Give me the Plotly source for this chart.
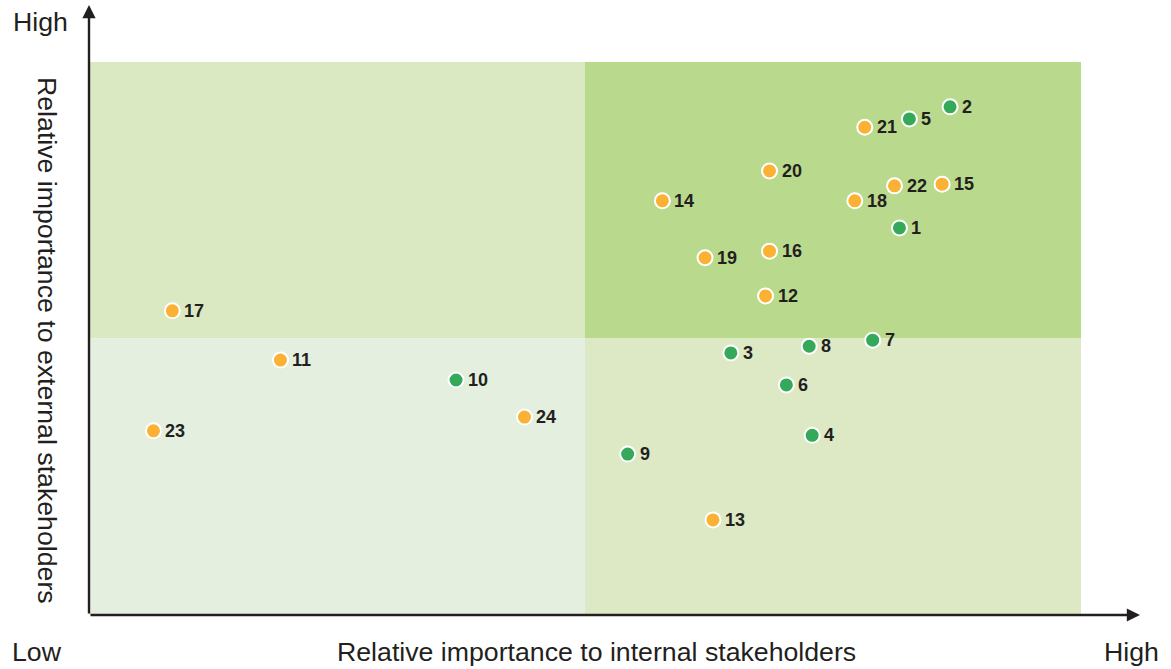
import plotly.graph_objects as go

# Issue number, position on each importance scale (0-100) and stakeholder group
issue_ids = ["1", "2", "3", "4", "5", "6", "7", "8", "9", "10", "11", "12",
             "13", "14", "15", "16", "17", "18", "19", "20", "21", "22", "23", "24"]
internal_importance = [81.7, 86.8, 64.7, 72.9, 82.7, 70.3, 79.0, 72.6, 54.3, 37.0, 19.3, 68.2,
                       62.9, 57.8, 86.0, 68.6, 8.4, 77.2, 62.1, 68.6, 78.2, 81.2, 6.5, 43.9]
external_importance = [70.0, 91.9, 47.4, 32.5, 89.7, 41.6, 49.7, 48.6, 29.1, 42.5, 46.1, 57.7,
                       17.2, 74.9, 77.9, 65.8, 55.0, 74.9, 64.6, 80.3, 88.2, 77.6, 33.3, 35.8]
issue_group = ["g", "g", "g", "g", "g", "g", "g", "g", "g", "g", "o", "o",
               "o", "o", "o", "o", "o", "o", "o", "o", "o", "o", "o", "o"]

group_colors = {"g": "#35a95a", "o": "#fbb133"}
ink = "#231f20"
font_family = "Liberation Sans, Arial, Helvetica, sans-serif"

W, H = 1171, 669
ML, MR, MT, MB = 89, 90, 62, 54
plot_w = W - ML - MR
plot_h = H - MT - MB
base_px = H - MB  # pixel row of the x axis


def px_x(p):
    return (p - ML) / plot_w


def px_y(p):
    return (base_px - p) / plot_h


fig = go.Figure()

fig.add_trace(go.Scatter(
    x=internal_importance,
    y=external_importance,
    mode="markers",
    marker=dict(
        size=15,
        color=[group_colors[g] for g in issue_group],
        line=dict(color="white", width=2),
    ),
    hoverinfo="skip",
    showlegend=False,
))

# Quadrant backgrounds
quadrants = [
    (0, 50, 50, 100, "#dae9c2"),   # top-left
    (50, 100, 50, 100, "#b9d98c"),  # top-right
    (0, 50, 0, 50, "#e4efdf"),      # bottom-left
    (50, 100, 0, 50, "#dce9c4"),    # bottom-right
]
shapes = [
    dict(type="rect", xref="x", yref="y", x0=x0, x1=x1, y0=y0, y1=y1,
         fillcolor=c, line=dict(width=0), layer="below")
    for x0, x1, y0, y1, c in quadrants
]

annotations = []
# Issue number labels, to the right of each marker
for label, xv, yv in zip(issue_ids, internal_importance, external_importance):
    annotations.append(dict(
        x=xv, y=yv, xref="x", yref="y", text=label, showarrow=False,
        xanchor="left", yanchor="middle", xshift=10, yshift=0,
        font=dict(family=font_family, size=18, color=ink, weight="bold"),
    ))

# Axis arrows
annotations.append(dict(
    x=0, y=px_y(5), xref="paper", yref="paper",
    ax=0, ay=base_px - 5, axref="pixel", ayref="pixel",
    text="", showarrow=True, arrowhead=2, arrowsize=1.1, arrowwidth=2.4,
    arrowcolor=ink,
))
annotations.append(dict(
    x=px_x(1140), y=0, xref="paper", yref="paper",
    ax=-(1140 - ML), ay=0, axref="pixel", ayref="pixel",
    text="", showarrow=True, arrowhead=2, arrowsize=1.1, arrowwidth=2.4,
    arrowcolor=ink,
))

# Axis captions
cap_font = dict(family=font_family, size=26.7, color=ink)
annotations += [
    dict(x=px_x(596), y=px_y(652), xref="paper", yref="paper",
         text="Relative importance to internal stakeholders", showarrow=False,
         xanchor="center", yanchor="middle", font=cap_font),
    dict(x=px_x(47), y=px_y(340), xref="paper", yref="paper",
         text="Relative importance to external stakeholders", showarrow=False,
         textangle=90, xanchor="center", yanchor="middle", font=cap_font),
    dict(x=px_x(40), y=px_y(22), xref="paper", yref="paper",
         text="High", showarrow=False, xanchor="center", yanchor="middle", font=cap_font),
    dict(x=px_x(37), y=px_y(652), xref="paper", yref="paper",
         text="Low", showarrow=False, xanchor="center", yanchor="middle", font=cap_font),
    dict(x=px_x(1131), y=px_y(652), xref="paper", yref="paper",
         text="High", showarrow=False, xanchor="center", yanchor="middle", font=cap_font),
]

fig.update_layout(
    width=W, height=H,
    margin=dict(l=ML, r=MR, t=MT, b=MB, pad=0),
    paper_bgcolor="white",
    plot_bgcolor="white",
    xaxis=dict(range=[0, 100], visible=False, fixedrange=True),
    yaxis=dict(range=[0, 100], visible=False, fixedrange=True),
    shapes=shapes,
    annotations=annotations,
    showlegend=False,
)

fig.write_html("out.html")
